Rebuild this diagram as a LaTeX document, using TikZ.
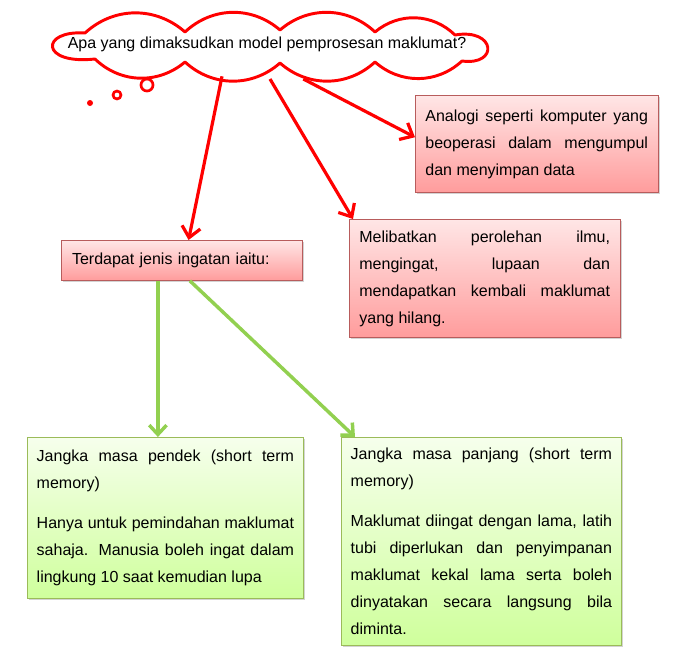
\documentclass[tikz,border=0pt]{standalone}
\usepackage{fontspec}
\setmainfont{Liberation Sans}
\usepackage{xcolor}
\usetikzlibrary{positioning, arrows.meta, shadows}
\setlength{\parindent}{0pt}
\definecolor{bubblered}{HTML}{FF0000}
\definecolor{pinktop}{HTML}{FFE6E6}
\definecolor{pinkbottom}{HTML}{FF9C9C}
\definecolor{pinkline}{HTML}{B85C5C}
\definecolor{limetop}{HTML}{F6FFEC}
\definecolor{limebottom}{HTML}{CFFF9C}
\definecolor{limeline}{HTML}{9BBB59}
\definecolor{arrowgreen}{HTML}{92D050}

\tikzset{
  boxtext/.style={font=\fontsize{12}{20.25}\selectfont, anchor=north west},
  redbox/.style={boxtext, draw=pinkline, line width=0.6pt, top color=pinktop, bottom color=pinkbottom,
    drop shadow={shadow xshift=1.5pt, shadow yshift=-1.5pt, opacity=0.35}},
  greenbox/.style={boxtext, draw=limeline, line width=0.6pt, top color=limetop, bottom color=limebottom,
    drop shadow={shadow xshift=1.5pt, shadow yshift=-1.5pt, opacity=0.35}},
  redarrow/.style={draw=bubblered, line width=2.4pt, -{Straight Barb[length=8pt, width=14pt]}},
  greenarrow/.style={draw=arrowgreen, line width=2.6pt, -{Straight Barb[length=7pt, width=13pt]}}
}

\begin{document}
\begin{tikzpicture}[x=0.75pt, y=-0.75pt]
  \useasboundingbox (0,0) rectangle (692,664);

  % thought cloud
  \coordinate (cloud) at (270,47);
  \draw[bubblered, line width=2.2pt, fill=white, line join=round]
    (85,33) to[bend left=42] (185,32) to[bend left=42] (280,30) to[bend left=42] (375,32)
    to[bend left=42] (455,35) .. controls (496,28) and (499,66) .. (462,61)
    to[bend left=42] (375,62) to[bend left=42] (280,63) to[bend left=42] (185,62)
    to[bend left=42] (95,59) .. controls (40,65) and (40,30) .. (85,33) -- cycle;
  \node[font=\fontsize{12}{14}\selectfont, anchor=base] (question) at (267,48)
    {Apa yang dimaksudkan model pemprosesan maklumat?};
  \foreach \cx/\cy/\r in {117/95/4, 147/85/6}
    \draw[bubblered, line width=2pt] (\cx,\cy) circle[radius=\r];
  \fill[bubblered] (90,103) circle[radius=3];

  % red boxes
  \node[redbox, align=justify, text width=167pt, inner xsep=7.5pt, minimum height=72.75pt] (analogi) at (415,95)
    {Analogi seperti komputer yang\linebreak beoperasi dalam mengumpul\linebreak dan menyimpan data};
  \node[redbox, align=justify, text width=188pt, inner xsep=7.5pt, minimum height=88.5pt] (melibat) at (349,219)
    {Melibatkan perolehan ilmu,\linebreak mengingat, lupaan dan\linebreak mendapatkan kembali maklumat\linebreak yang hilang.};
  \node[redbox, align=left, text width=164.75pt, inner xsep=8pt, minimum height=30pt] (terdapat) at (61,240)
    {Terdapat jenis ingatan iaitu:};

  % green boxes
  \node[greenbox, align=justify, text width=193pt, inner xsep=7pt, minimum height=120.75pt] (pendek) at (27,437)
    {Jangka masa pendek (short term\linebreak memory)\par\vspace{10pt}
     Hanya untuk pemindahan maklumat\linebreak sahaja. Manusia boleh ingat dalam\linebreak lingkung 10 saat kemudian lupa};
  \node[greenbox, align=justify, text width=196pt, inner xsep=7pt, minimum height=156pt] (panjang) at (341,437)
    {Jangka masa panjang (short term\linebreak memory)\par\vspace{10pt}
     Maklumat diingat dengan lama, latih\linebreak tubi diperlukan dan penyimpanan\linebreak maklumat kekal lama serta boleh\linebreak dinyatakan secara langsung bila\linebreak diminta.};

  % connectors
  \draw[redarrow] ([xshift=-36pt, yshift=-22pt]cloud) -- ([xshift=5pt]terdapat.north);
  \draw[redarrow] ([yshift=-24pt]cloud) -- ([xshift=3pt]melibat.north west);
  \draw[redarrow] ([xshift=25pt, yshift=-24pt]cloud) -- ([yshift=5pt]analogi.west);
  \draw[greenarrow] ([xshift=-18pt]terdapat.south) -- ([xshift=-18pt]terdapat.south |- pendek.north);
  \draw[greenarrow] ([xshift=6pt]terdapat.south) -- ([xshift=10.5pt]panjang.north west);
\end{tikzpicture}
\end{document}
